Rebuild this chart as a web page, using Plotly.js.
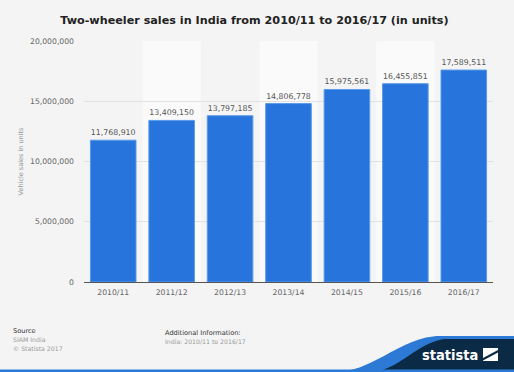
<!DOCTYPE html>
<html><head><meta charset="utf-8">
<script src="https://cdn.plot.ly/plotly-3.0.1.min.js"></script>
<style>html,body{margin:0;padding:0;background:#f4f4f4;}#chart{width:514px;height:372px;}</style>
</head><body><div id="chart"></div>
<script>
const categories = ["2010/11","2011/12","2012/13","2013/14","2014/15","2015/16","2016/17"];
const sales = [11768910,13409150,13797185,14806778,15975561,16455851,17589511];
const yTicks = [0,5000000,10000000,15000000,20000000];
const yTickLabels = ["0","5,000,000","10,000,000","15,000,000","20,000,000"];

const W=514,H=372,L=84,R=21,T=41,B=90;
const pw=W-L-R, ph=H-T-B;
const px=x=>(x-L)/pw, py=y=>(H-B-y)/ph;
const P=(pts)=>pts.map((p,i)=>(i?'L':'M')+px(p[0]).toFixed(4)+','+py(p[1]).toFixed(4)).join(' ')+' Z';

const shapes=[];
categories.forEach((c,i)=>{ if(i%2===1){ shapes.push({type:'rect',xref:'x',yref:'paper',x0:i-0.5,x1:i+0.5,y0:0,y1:1,fillcolor:'#fafafa',line:{width:0},layer:'below'}); }});
function wave(x0,y0,x1,y1,n){const pts=[];for(let k=0;k<=n;k++){const t=k/n;const s=(1-Math.cos(Math.PI*t))/2;pts.push([x0+(x1-x0)*t,y0+(y1-y0)*s]);}return pts;}
const blueW = wave(335,372,440,336,30).concat([[514,336],[514,372]]);
const navy = wave(370,372,448,339,30).concat([[514,339],[514,372]]);
shapes.push({type:'path',xref:'paper',yref:'paper',path:P(blueW),fillcolor:'#2d7ad6',line:{width:0}});
shapes.push({type:'path',xref:'paper',yref:'paper',path:P(navy),fillcolor:'#0b2a45',line:{width:0}});
shapes.push({type:'rect',xref:'paper',yref:'paper',x0:px(0),x1:px(514),y0:py(372),y1:py(369.5),fillcolor:'#2d7ad6',line:{width:0}});
shapes.push({type:'path',xref:'paper',yref:'paper',path:P([[483,348],[498,348],[498,361],[483,361]]),fillcolor:'#ffffff',line:{width:0}});
shapes.push({type:'path',xref:'paper',yref:'paper',path:P([[483,358],[498,350],[498,352.5],[483,360.5]]),fillcolor:'#0b2a45',line:{width:0}});

const ann=[
 {text:'Source',x:px(11),y:py(331),xanchor:'left',yanchor:'middle',font:{size:6.6,color:'#333'}},
 {text:'SIAM India',x:px(11),y:py(339.5),xanchor:'left',yanchor:'middle',font:{size:6.2,color:'#999'}},
 {text:'© Statista 2017',x:px(11),y:py(348),xanchor:'left',yanchor:'middle',font:{size:6.2,color:'#999'}},
 {text:'Additional Information:',x:px(163),y:py(332.5),xanchor:'left',yanchor:'middle',font:{size:6.6,color:'#333'}},
 {text:'India: 2010/11 to 2016/17',x:px(163),y:py(341.5),xanchor:'left',yanchor:'middle',font:{size:6.2,color:'#999'}},
 {text:'<b>statista</b>',x:px(480),y:py(355),xanchor:'right',yanchor:'middle',font:{size:14.5,color:'#ffffff',family:'DejaVu Sans Condensed, DejaVu Sans'}}
];
ann.forEach(a=>{a.xref='paper';a.yref='paper';a.showarrow=false;});

Plotly.newPlot('chart',[{
 type:'bar',x:categories,y:sales,
 marker:{color:'#2775dc',line:{color:'#5a9ae8',width:1}},
 text:sales.map(v=>v.toLocaleString('en-US')),textposition:'outside',cliponaxis:false,
 textfont:{size:7.8,color:'#555'},hoverinfo:'none'
}],{
 width:W,height:H,margin:{l:L,r:R,t:T,b:B},
 paper_bgcolor:'#f4f4f4',plot_bgcolor:'#f4f4f4',
 font:{family:'DejaVu Sans, sans-serif'},
 bargap:0.22,showlegend:false,
 title:{text:'<b>Two-wheeler sales in India from 2010/11 to 2016/17 (in units)</b>',x:0.495,xanchor:'center',y:0.945,yanchor:'middle',font:{size:11.2,color:'#222'}},
 xaxis:{type:'category',tickfont:{size:7.7,color:'#666'},showline:true,linecolor:'#555',linewidth:1,ticks:'',showgrid:false,zeroline:false,ticklabelstandoff:3},
 yaxis:{range:[0,20000000],tickvals:yTicks,ticktext:yTickLabels,tickfont:{size:7.7,color:'#666'},gridcolor:'#e2e2e2',gridwidth:1,zeroline:false,ticks:'',ticklen:0,ticklabelstandoff:9,
   title:{text:'Vehicle sales in units',font:{size:6.5,color:'#999'},standoff:5}},
 shapes:shapes,annotations:ann
},{staticPlot:true});
</script></body></html>
